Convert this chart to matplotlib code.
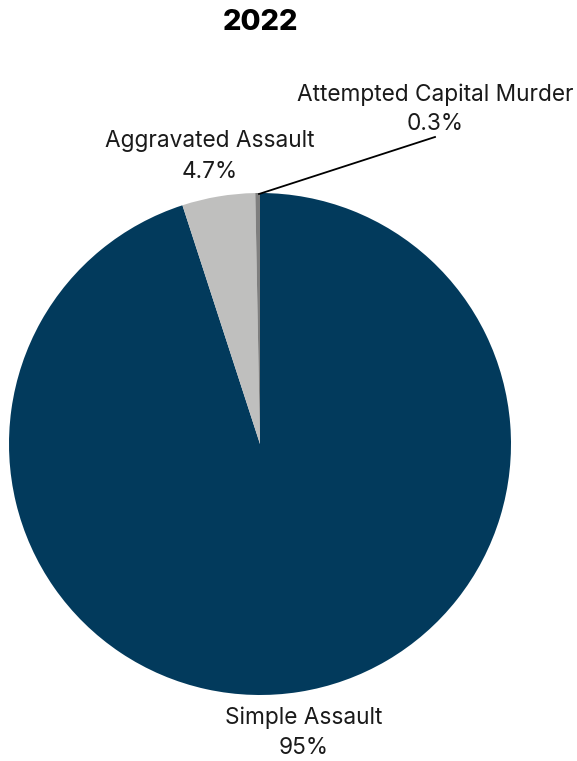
import matplotlib
matplotlib.use("Agg")
import matplotlib.pyplot as plt

CATEGORIES = ["Simple Assault", "Aggravated Assault", "Attempted Capital Murder"]
SHARES = [95.0, 4.7, 0.3]
SHARE_LABELS = ["95%", "4.7%", "0.3%"]
COLORS = ["#023a5c", "#bfbfbe", "#7f7f7f"]

W, H = 577, 761

fig = plt.figure(figsize=(W / 100, H / 100), dpi=100)
ax = fig.add_axes([0, 0, 1, 1])


# pixel coords (y measured from the top) -> data coords
def py(y):
    return H - y


cx, cy, r = 260, py(444), 251
ax.pie(SHARES, colors=COLORS, startangle=90, counterclock=False,
       center=(cx, cy), radius=r, frame=True,
       wedgeprops=dict(linewidth=0))
ax.set_xlim(0, W)
ax.set_ylim(0, H)
ax.set_aspect("equal")
ax.axis("off")

fnt = dict(family=["Inter", "DejaVu Sans"], fontsize=16.3, color="#1a1a1a",
           ha="center", va="center")

ax.text(260, py(22), "2022", family=["Inter", "DejaVu Sans"], fontsize=21,
        fontweight="heavy", ha="center", va="center", color="black")

# label positions (pixels)
pos = [(304, 718, 748), (210, 141, 172), (435, 95, 124)]
for name, lab, (x, y1, y2) in zip(CATEGORIES, SHARE_LABELS, pos):
    ax.text(x, py(y1), name, **fnt)
    ax.text(x, py(y2), lab, **fnt)

# leader line for the smallest slice
ax.plot([259, 435], [py(194), py(137)], color="black", lw=1.3)

fig.savefig("out.png", dpi=100)
